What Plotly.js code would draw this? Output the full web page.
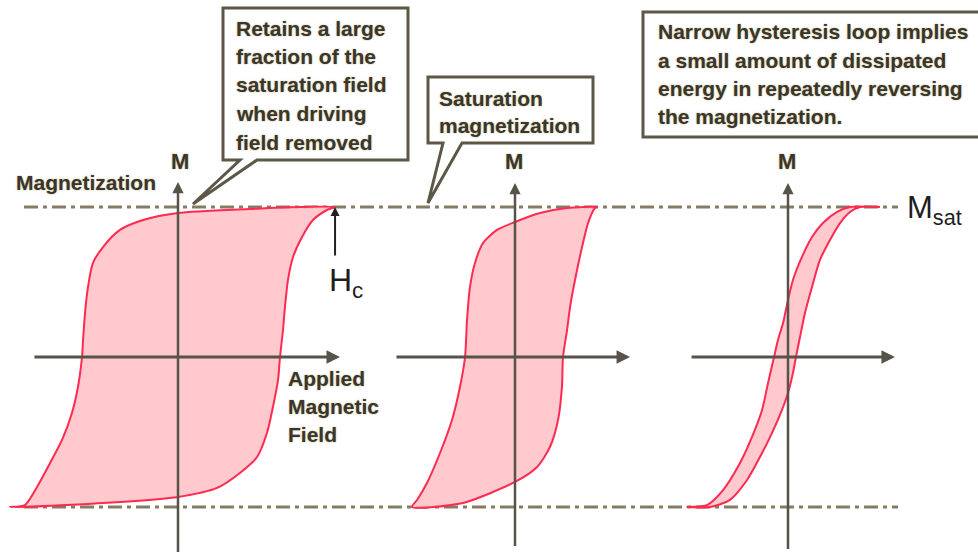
<!DOCTYPE html>
<html>
<head>
<meta charset="utf-8">
<script src="https://cdn.plot.ly/plotly-3.0.1.min.js"></script>
<style>
  html, body { margin: 0; padding: 0; background: #ffffff; }
  #chart { width: 978px; height: 553px; }
</style>
</head>
<body>
<div id="chart"></div>
<script>
// Hysteresis loops: applied field H (arbitrary units) vs magnetisation M (normalised to Msat).
// Each loop = descending branch (from +Msat) followed by ascending branch (from -Msat).

// Hard magnet: wide loop
const loop1UpperH = [1.047, 0.813, 0.48, 0, -0.233, -0.387, -0.5, -0.567, -0.6, -0.62, -0.633, -0.64, -0.667, -0.707, -0.773, -0.853, -0.94, -1.02, -1.12];
const loop1UpperM = [1.0, 1.0, 0.987, 0.96, 0.913, 0.847, 0.733, 0.627, 0.467, 0.293, 0.113, 0, -0.2, -0.373, -0.553, -0.707, -0.867, -0.987, -1.0];
const loop1LowerH = [-1.12, -0.74, 0, 0.26, 0.413, 0.527, 0.593, 0.633, 0.667, 0.68, 0.7, 0.713, 0.733, 0.767, 0.827, 0.9, 0.993, 1.047];
const loop1LowerM = [-1.0, -0.987, -0.933, -0.873, -0.773, -0.667, -0.507, -0.333, -0.153, 0, 0.18, 0.333, 0.513, 0.667, 0.8, 0.913, 0.98, 1.0];

// Intermediate loop
const loop2UpperH = [0.547, 0.347, 0.167, 0, -0.12, -0.213, -0.267, -0.3, -0.32, -0.333, -0.367, -0.42, -0.5, -0.587, -0.653, -0.687];
const loop2UpperM = [1.0, 0.993, 0.96, 0.9, 0.847, 0.76, 0.627, 0.467, 0.247, 0, -0.2, -0.42, -0.64, -0.84, -0.953, -1.0];
const loop2LowerH = [-0.687, -0.347, 0, 0.147, 0.233, 0.287, 0.313, 0.32, 0.347, 0.367, 0.4, 0.447, 0.487, 0.533, 0.547];
const loop2LowerM = [-1.0, -0.973, -0.833, -0.733, -0.6, -0.42, -0.2, 0, 0.18, 0.333, 0.513, 0.733, 0.893, 0.993, 1.0];

// Soft magnet: narrow loop
const loop3UpperH = [0.613, 0.413, 0.327, 0.233, 0.16, 0.093, 0.033, 0, -0.033, -0.067, -0.093, -0.133, -0.173, -0.24, -0.32, -0.433, -0.54, -0.673];
const loop3UpperM = [1.0, 1.0, 0.967, 0.893, 0.8, 0.667, 0.513, 0.38, 0.227, 0.113, 0, -0.173, -0.353, -0.533, -0.707, -0.887, -0.987, -1.0];
const loop3LowerH = [-0.673, -0.52, -0.387, -0.273, -0.187, -0.107, -0.04, 0, 0.033, 0.053, 0.08, 0.113, 0.16, 0.213, 0.28, 0.347, 0.413, 0.48, 0.613];
const loop3LowerM = [-1.0, -1.0, -0.953, -0.82, -0.667, -0.507, -0.353, -0.24, -0.107, 0, 0.133, 0.293, 0.467, 0.647, 0.78, 0.893, 0.967, 1.0, 1.0];

// Saturation level (normalised)
const mSat = 1.0;

// Text
const callout1 = ["Retains a large", "fraction of the", "saturation field", "when driving", "field removed"];
const callout2 = ["Saturation", "magnetization"];
const callout3 = ["Narrow hysteresis loop implies", "a small amount of dissipated", "energy in repeatedly reversing", "the magnetization."];
const fieldLabel = ["Applied", "Magnetic", "Field"];
const magLabel = "Magnetization";
const axisLabel = "M";

// ---- geometry (page pixels) ----
const W = 978, Hpx = 553, UNIT = 150, Y0 = 357;
const origins = [178, 515, 788];                 // x pixel of each loop's M axis
const px = x => x / W;                           // page px -> paper fraction
const py = y => 1 - y / Hpx;
const axName = i => (i === 0 ? 'x' : 'x' + (i + 1));

const RED = '#ff2a4f', FILL = 'rgba(255,192,196,0.85)';
const AXC = '#57524a', TXT = '#3a362a', DASHC = '#847d64';
const FONT = 'Liberation Sans, Arial, sans-serif';
const HALO = '0 0 2px #b9ab80';

const loops = [
  [loop1UpperH, loop1UpperM, loop1LowerH, loop1LowerM],
  [loop2UpperH, loop2UpperM, loop2LowerH, loop2LowerM],
  [loop3UpperH, loop3UpperM, loop3LowerH, loop3LowerM]
];

const traces = loops.map((l, i) => ({
  type: 'scatter', mode: 'lines',
  x: l[0].concat(l[2].slice(1)),
  y: l[1].concat(l[3].slice(1)),
  xaxis: axName(i), yaxis: 'y',
  fill: 'toself', fillcolor: FILL,
  line: { color: RED, width: 2, shape: 'spline', smoothing: 0.7 },
  hoverinfo: 'skip', showlegend: false
}));

const layout = {
  width: W, height: Hpx,
  margin: { l: 0, r: 0, t: 0, b: 0 },
  paper_bgcolor: '#ffffff', plot_bgcolor: '#ffffff',
  showlegend: false,
  yaxis: { range: [(Y0 - Hpx) / UNIT, Y0 / UNIT], visible: false, fixedrange: true },
  shapes: [], annotations: []
};
origins.forEach((o, i) => {
  const key = i === 0 ? 'xaxis' : 'xaxis' + (i + 1);
  layout[key] = { range: [-o / UNIT, (W - o) / UNIT], visible: false, fixedrange: true,
                  domain: [0, 1], anchor: 'y' };
  if (i > 0) layout[key].overlaying = 'x';
});

// saturation levels (dash-dot)
[mSat, -mSat].forEach(m => layout.shapes.push({
  type: 'line', xref: 'paper', yref: 'y', x0: px(24), x1: px(898), y0: m, y1: m,
  line: { color: DASHC, width: 3, dash: '14px,5px,4px,5px' }, layer: 'below'
}));

// axes arrows for each loop: [H min, H max, M min, M max]
const axesExtent = [
  [-0.967, 1.08, -1.31, 1.167],
  [-0.8, 0.767, -1.27, 1.16],
  [-0.653, 0.713, -1.29, 1.16]
];
const arrow = (xr, x, y, ax, ay, color, width) => ({
  xref: xr, yref: 'y', axref: xr, ayref: 'y', x, y, ax, ay, text: '',
  showarrow: true, arrowhead: 2, arrowsize: 0.9, arrowwidth: width, arrowcolor: color
});
axesExtent.forEach((e, i) => {
  const xr = axName(i);
  layout.annotations.push(arrow(xr, e[1], 0, e[0], 0, AXC, 3));
  layout.annotations.push(arrow(xr, 0, e[3], 0, e[2], AXC, 2.5));
});
// coercive-field pointer
layout.annotations.push(arrow('x', loop1UpperH[0], mSat, loop1UpperH[0], 0.667, '#222222', 2));

// callout boxes
const pathOf = pts => pts.map((p, k) => (k ? 'L' : 'M') + px(p[0]).toFixed(5) + ',' + py(p[1]).toFixed(5)).join(' ') + ' Z';
const boxStyle = { type: 'path', xref: 'paper', yref: 'paper', fillcolor: '#ffffff',
                   line: { color: '#5c5747', width: 3 }, layer: 'above' };
layout.shapes.push(Object.assign({ path: pathOf([[223,8],[408,8],[408,160],[257,160],[193,204],[240,160],[223,160]]) }, boxStyle));
layout.shapes.push(Object.assign({ path: pathOf([[428,77],[593,77],[593,143],[462,143],[428,203],[443,143],[428,143]]) }, boxStyle));
layout.shapes.push(Object.assign({ path: pathOf([[643,12],[992,12],[992,137],[643,137]]) }, boxStyle));

const label = (text, x, y, size, opts) => Object.assign({
  xref: 'paper', yref: 'paper', x: px(x), y: py(y), text, showarrow: false,
  xanchor: 'left', yanchor: 'middle',
  font: { family: FONT, size, color: TXT, weight: 'bold', shadow: HALO }
}, opts || {});

callout1.forEach((t, k) => layout.annotations.push(label(t, 234, 28 + k * 28.5, 21)));
callout2.forEach((t, k) => layout.annotations.push(label(t, 437, 99 + k * 26, 21)));
callout3.forEach((t, k) => layout.annotations.push(label(t, 656, 32 + k * 28.3, 21)));
fieldLabel.forEach((t, k) => layout.annotations.push(label(t, 286, 378 + k * 28, 21)));
layout.annotations.push(label(magLabel, 14, 182, 21));
[180, 514, 787].forEach(x => layout.annotations.push(label(axisLabel, x, 161, 22, { xanchor: 'center' })));

layout.annotations.push(label('M<sub>sat</sub>', 905, 210, 31,
  { font: { family: FONT, size: 31, color: '#1e1e1e' } }));
layout.annotations.push(label('H<sub>c</sub>', 327, 282, 32,
  { font: { family: FONT, size: 32, color: '#1e1e1e' } }));

Plotly.newPlot('chart', traces, layout, { staticPlot: true, displayModeBar: false });
</script>
</body>
</html>
